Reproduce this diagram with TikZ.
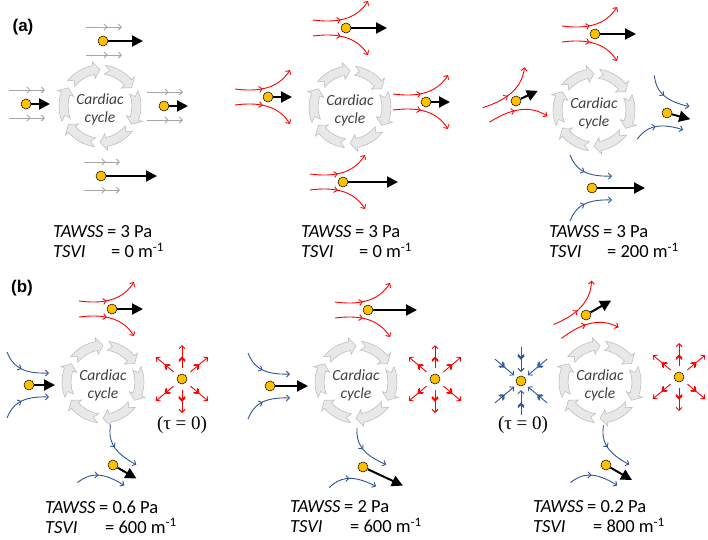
\documentclass[tikz,border=0pt]{standalone}
\usepackage{fontspec}
\setmainfont{Carlito}
\newfontfamily\labelfont{Liberation Sans}
\newfontfamily\taufont{Liberation Serif}
\usetikzlibrary{arrows.meta,decorations.markings}

\definecolor{flowred}{RGB}{255,0,0}
\definecolor{flowblue}{RGB}{47,85,151}
\definecolor{flowgray}{RGB}{166,166,166}
\definecolor{dotyellow}{RGB}{255,192,0}
\definecolor{ringfill}{RGB}{232,232,232}
\definecolor{ringline}{RGB}{191,191,191}

% ring of six curved arrows with the label inside
\newcommand{\cardiacring}[2]{%
  \begin{scope}[shift={(#1,#2)}]
    \foreach \h in {90,30,-30,-90,-150,150}
      \filldraw[ring] ({\h-52}:41) arc[start angle={\h-52}, end angle={\h-10}, radius=41]
        -- ({\h-10}:45) -- (\h:36.5) -- ({\h-10}:28) -- ({\h-10}:32)
        arc[start angle={\h-10}, end angle={\h-52}, radius=32] -- ({\h-45}:36.5) -- cycle;
    \node[cyc] at (0,3) {Cardiac\\cycle};
  \end{scope}}

% particle in parallel flow
\newcommand{\calm}[4]{%
  \begin{scope}[shift={(#2,#3)}]
    \draw[grayflow] (-17,-14) -- (19,-14);
    \draw[grayflow] (-17,14) -- (19,14);
    \node[particle] (#1) at (0,0) {};
    \draw[velocity] (#1) -- (#4,0);
  \end{scope}}

% particle in diverging flow
\newcommand{\diverge}[5]{%
  \begin{scope}[shift={(#2,#3)}, rotate=#4]
    \draw[redflow] (-33,-8) .. controls (-10,-5) and (10,-8) .. (22,-27);
    \draw[redflow] (-33,8) .. controls (-10,5) and (10,8) .. (22,27);
    \node[particle] (#1) at (0,0) {};
    \draw[velocity] (#1) -- (#5,0);
  \end{scope}}

% particle in converging flow
\newcommand{\converge}[5]{%
  \begin{scope}[shift={(#2,#3)}, rotate=#4]
    \draw[blueflow] (-22,-33) .. controls (-17,-20) and (-8,-11) .. (20,-12);
    \draw[blueflow] (-22,33) .. controls (-17,20) and (-8,11) .. (20,12);
    \node[particle] (#1) at (0,0) {};
    \draw[velocity] (#1) -- (#5,0);
  \end{scope}}

% stagnation points
\newcommand{\burst}[3]{%
  \begin{scope}[shift={(#2,#3)}]
    \foreach \a in {40,90,140,220,270,320}
      \draw[redflow, midtip=0.5] (\a:11) -- (\a:34);
    \node[particle] (#1) at (0,0) {};
  \end{scope}}
\newcommand{\sink}[3]{%
  \begin{scope}[shift={(#2,#3)}]
    \foreach \a in {40,90,140,220,270,320}
      \draw[blueflow, midtip=0.5] (\a:34) -- (\a:9);
    \node[particle] (#1) at (0,0) {};
  \end{scope}}

\begin{document}
\begin{tikzpicture}[x=1pt, y=-1pt,
    ring/.style={fill=ringfill, draw=ringline, line width=0.6pt},
    cyc/.style={align=center, text=black!75, font=\fontsize{15.5}{18}\selectfont\itshape},
    particle/.style={circle, draw, fill=dotyellow, minimum size=10pt, inner sep=0pt, line width=0.5pt},
    velocity/.style={line width=2pt, -{Triangle[length=11pt,width=11pt]}},
    midtip/.style={decoration={markings, mark=at position #1 with {\arrow{Straight Barb[length=3pt,width=6pt]}}}, postaction={decorate}},
    midtip/.default=0.45,
    redflow/.style={flowred, line width=0.9pt, -{Straight Barb[length=3pt,width=6pt]}, midtip},
    blueflow/.style={flowblue, line width=0.9pt, -{Straight Barb[length=3pt,width=6pt]}, midtip},
    grayflow/.style={flowgray, line width=0.9pt, -{Straight Barb[length=3pt,width=6pt]}, midtip=0.6},
    panel/.style={font=\labelfont\bfseries\fontsize{17}{19}\selectfont},
    taulabel/.style={font=\taufont\fontsize{19}{22}\selectfont},
    stats/.style={anchor=west, align=left, inner sep=0pt, font=\fontsize{18.5}{20}\selectfont}
    ]
  \useasboundingbox (0,0) rectangle (708,539);

  \node[panel] (labela) at (23,27) {(a)};
  \node[panel] (labelb) at (22,288) {(b)};

  % (a) left
  \cardiacring{100}{106}
  \calm{a1t}{103}{41}{40}
  \calm{a1l}{26}{104}{24}
  \calm{a1r}{164}{106}{24}
  \calm{a1b}{101}{176}{56}
  \node[stats] (a1s) at (53,242) {\makebox[54pt][l]{\textit{TAWSS}}= 3 Pa\\\makebox[58pt][l]{\textit{TSVI}}= 0 m\textsuperscript{-1}};

  % (a) middle
  \cardiacring{350}{107}
  \diverge{a2t}{346}{28}{0}{41}
  \diverge{a2l}{268}{97}{0}{24}
  \diverge{a2r}{426}{102}{0}{24}
  \diverge{a2b}{343}{182}{0}{55}
  \node[stats] (a2s) at (301,242) {\makebox[54pt][l]{\textit{TAWSS}}= 3 Pa\\\makebox[58pt][l]{\textit{TSVI}}= 0 m\textsuperscript{-1}};

  % (a) right
  \cardiacring{594}{110}
  \diverge{a3t}{595}{34}{0}{41}
  \diverge{a3l}{516}{101}{25}{24}
  \converge{a3r}{667}{113}{-15}{24}
  \converge{a3b}{592}{188}{0}{53}
  \node[stats] (a3s) at (549,242) {\makebox[54pt][l]{\textit{TAWSS}}= 3 Pa\\\makebox[58pt][l]{\textit{TSVI}}= 200 m\textsuperscript{-1}};

  % (b) left
  \cardiacring{103}{382}
  \diverge{b1t}{112}{309}{0}{31}
  \converge{b1l}{29}{385}{0}{26}
  \burst{b1r}{182}{379}
  \node[taulabel] (b1tau) at (182,425) {(τ = 0)};
  \converge{b1b}{113}{465}{-30}{27}
  \node[stats] (b1s) at (45,517) {\makebox[54pt][l]{\textit{TAWSS}}= 0.6 Pa\\\makebox[60pt][l]{\textit{TSVI}}= 600 m\textsuperscript{-1}};

  % (b) middle
  \cardiacring{356}{382}
  \diverge{b2t}{368}{310}{0}{49}
  \converge{b2l}{270}{386}{0}{38}
  \burst{b2r}{435}{379}
  \converge{b2b}{363}{467}{-25}{44}
  \node[stats] (b2s) at (290,517) {\makebox[54pt][l]{\textit{TAWSS}}= 2 Pa\\\makebox[60pt][l]{\textit{TSVI}}= 600 m\textsuperscript{-1}};

  % (b) right
  \cardiacring{600}{382}
  \diverge{b3t}{586}{315}{30}{29}
  \sink{b3l}{521}{381}
  \node[taulabel] (b3tau) at (523,425) {(τ = 0)};
  \burst{b3r}{679}{377}
  \converge{b3b}{606}{465}{-30}{30}
  \node[stats] (b3s) at (533,517) {\makebox[54pt][l]{\textit{TAWSS}}= 0.2 Pa\\\makebox[60pt][l]{\textit{TSVI}}= 800 m\textsuperscript{-1}};
\end{tikzpicture}
\end{document}
